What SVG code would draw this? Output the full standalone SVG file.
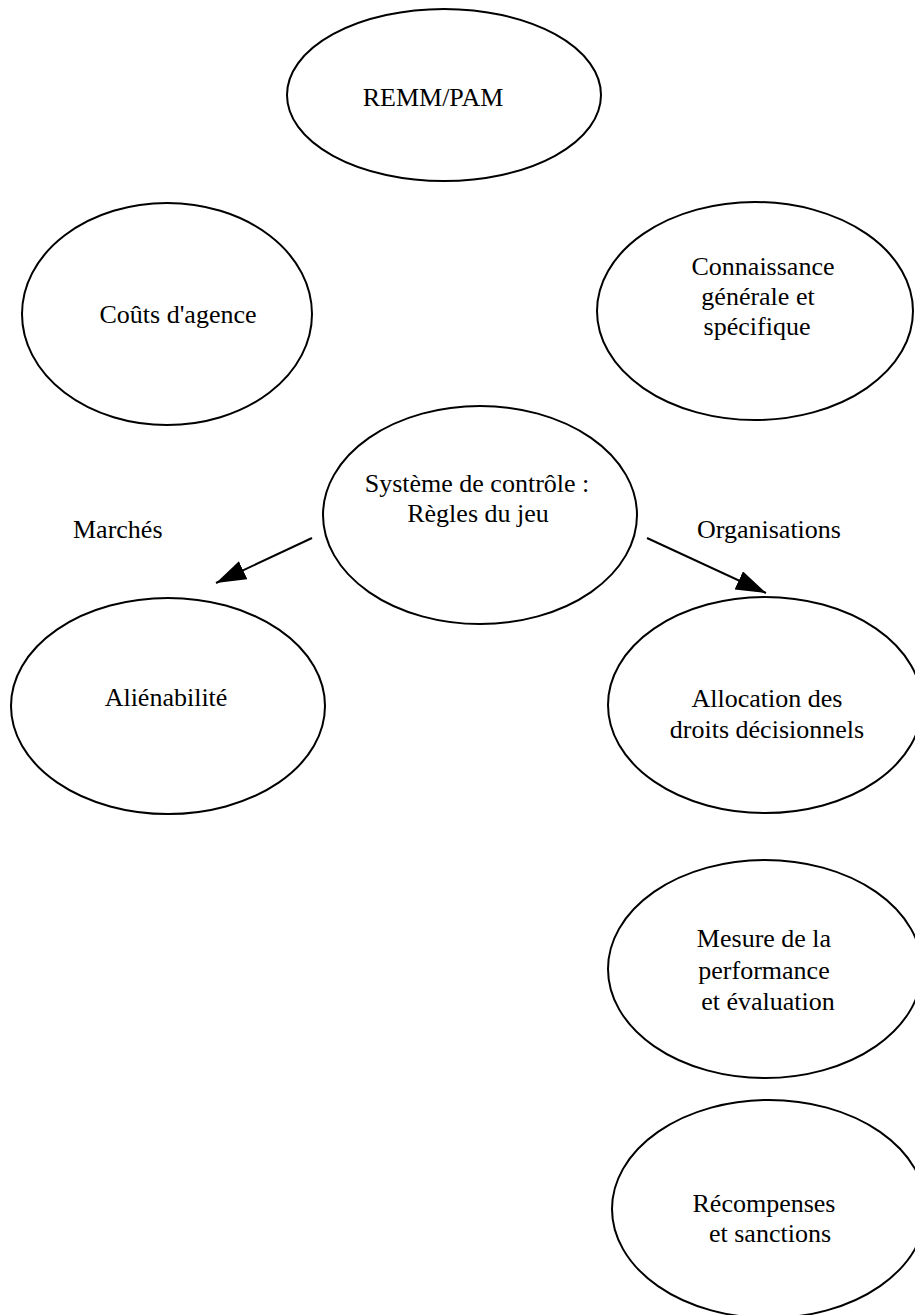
<svg xmlns="http://www.w3.org/2000/svg" width="915" height="1315" viewBox="0 0 915 1315">
<style>
.n{fill:#fff;stroke:#000;stroke-width:2}
.t{font-family:"Liberation Serif","Times New Roman",serif;font-size:26px;fill:#000;text-anchor:middle}
.ts{font-family:"Liberation Serif","Times New Roman",serif;font-size:26px;fill:#000}
.c{stroke:#000;stroke-width:2;fill:none}
</style>
<defs>
<marker id="ah" markerUnits="userSpaceOnUse" markerWidth="32" markerHeight="22" refX="30" refY="10" orient="auto" viewBox="0 0 32 22">
<path d="M0,0 L30,10 L0,20 z" fill="#000"/>
</marker>
</defs>
<rect width="915" height="1315" fill="#fff"/>
<g id="connectors">
<line class="c" x1="312" y1="538" x2="216" y2="583" marker-end="url(#ah)"/>
<line class="c" x1="647" y1="538" x2="766" y2="593" marker-end="url(#ah)"/>
<text class="ts" x="73" y="538">Marchés</text>
<text class="ts" x="697" y="538">Organisations</text>
</g>
<g id="remm">
<ellipse class="n" cx="444" cy="95" rx="157" ry="86"/>
<text class="t" x="433" y="106">REMM/PAM</text>
</g>
<g id="couts">
<ellipse class="n" cx="167" cy="314" rx="145" ry="111"/>
<text class="t" x="178" y="323">Coûts d'agence</text>
</g>
<g id="connaissance">
<ellipse class="n" cx="755" cy="311" rx="158" ry="109"/>
<text class="t" x="763" y="275">Connaissance</text>
<text class="t" x="758" y="305">générale et</text>
<text class="t" x="757" y="335">spécifique</text>
</g>
<g id="systeme">
<ellipse class="n" cx="480" cy="515" rx="157" ry="109"/>
<text class="t" x="477" y="492">Système de contrôle :</text>
<text class="t" x="478" y="522">Règles du jeu</text>
</g>
<g id="alienabilite">
<ellipse class="n" cx="168" cy="706" rx="157" ry="108"/>
<text class="t" x="166" y="706">Aliénabilité</text>
</g>
<g id="allocation">
<ellipse class="n" cx="765" cy="705" rx="157" ry="108"/>
<text class="t" x="767" y="707">Allocation des</text>
<text class="t" x="767" y="738">droits décisionnels</text>
</g>
<g id="mesure">
<ellipse class="n" cx="765" cy="969" rx="157" ry="109"/>
<text class="t" x="764" y="947">Mesure de la</text>
<text class="t" x="764" y="979">performance</text>
<text class="t" x="768" y="1010">et évaluation</text>
</g>
<g id="recompenses">
<ellipse class="n" cx="769" cy="1209" rx="157" ry="109"/>
<text class="t" x="764" y="1212">Récompenses</text>
<text class="t" x="770" y="1242">et sanctions</text>
</g>
</svg>
